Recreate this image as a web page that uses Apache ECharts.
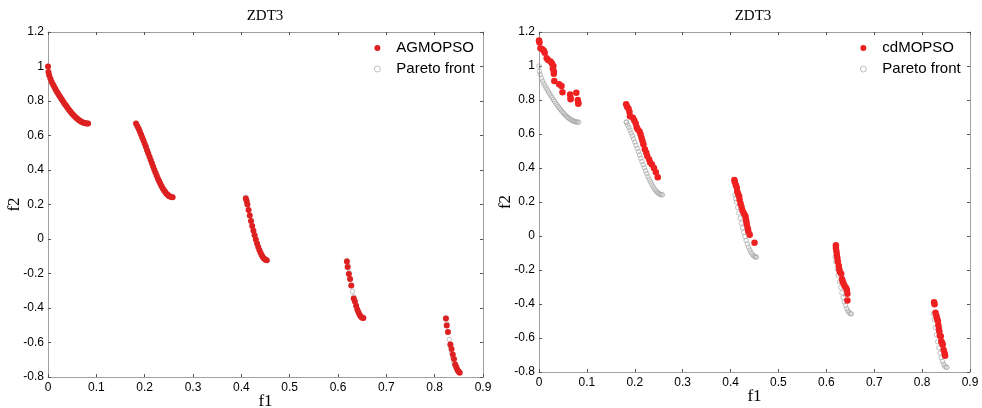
<!DOCTYPE html>
<html><head><meta charset="utf-8">
<script src="https://cdn.jsdelivr.net/npm/echarts@6/dist/echarts.min.js"></script>
<style>html,body{margin:0;padding:0;background:#fff}#c{width:982px;height:408px}</style>
</head><body><div id="c"></div>
<script>
const titles = ['ZDT3', 'ZDT3'];
const seriesNames = ['AGMOPSO', 'cdMOPSO'];
const frontName = 'Pareto front';

// True Pareto front of ZDT3 (f1, f2), read along the grey markers
const paretoFront = [
[0,1.0],[0.001,0.9684],[0.0025,0.9498],[0.005,0.9285],[0.0075,0.9116],[0.01,0.8969],[0.0125,0.8834],[0.015,0.8707],[0.0175,0.8586],[0.02,0.8468],[0.0225,0.8354],[0.025,0.8242],[0.0275,0.8133],[0.03,0.8025],[0.0325,0.7920],[0.035,0.7817],[0.0375,0.7718],[0.04,0.7620],[0.0425,0.7525],[0.045,0.7434],[0.0475,0.7347],[0.05,0.7264],[0.0525,0.7186],[0.055,0.7112],[0.0575,0.7043],[0.06,0.6980],[0.0625,0.6923],[0.065,0.6871],[0.0675,0.6826],[0.07,0.6788],[0.0725,0.6756],[0.075,0.6731],[0.0775,0.6713],[0.08,0.6702],[0.083,0.6696],
[0.1822,0.6699],[0.1825,0.6682],[0.185,0.6539],[0.1875,0.6388],[0.19,0.6228],[0.1925,0.6062],[0.195,0.5889],[0.1975,0.5711],[0.2,0.5528],[0.2025,0.5341],[0.205,0.5151],[0.2075,0.4961],[0.21,0.4768],[0.2125,0.4577],[0.215,0.4387],[0.2175,0.4200],[0.22,0.4017],[0.2225,0.3838],[0.225,0.3666],[0.2275,0.3500],[0.23,0.3343],[0.2325,0.3196],[0.235,0.3058],[0.2375,0.2933],[0.24,0.2819],[0.2425,0.2718],[0.245,0.2630],[0.2475,0.2558],[0.25,0.2500],[0.2525,0.2458],[0.255,0.2431],[0.2578,0.2422],
[0.4093,0.2423],[0.411,0.2197],[0.4125,0.1998],[0.415,0.1674],[0.4175,0.1358],[0.42,0.1050],[0.4225,0.0756],[0.425,0.0476],[0.4275,0.0211],[0.43,-0.0036],[0.4325,-0.0263],[0.435,-0.0471],[0.4375,-0.0656],[0.44,-0.0817],[0.4425,-0.0955],[0.445,-0.1066],[0.4475,-0.1151],[0.45,-0.1208],[0.4525,-0.1238],[0.4539,-0.1242],
[0.6184,-0.1242],[0.62,-0.1518],[0.6225,-0.1933],[0.625,-0.2325],[0.6275,-0.2693],[0.63,-0.3034],[0.6325,-0.3346],[0.635,-0.3627],[0.6375,-0.3874],[0.64,-0.4086],[0.6425,-0.4264],[0.645,-0.4402],[0.6475,-0.4502],[0.65,-0.4562],[0.6525,-0.4583],
[0.8233,-0.4578],[0.825,-0.4917],[0.8275,-0.5389],[0.83,-0.5825],[0.8325,-0.6222],[0.835,-0.6578],[0.8375,-0.6889],[0.84,-0.7153],[0.8425,-0.7371],[0.845,-0.7538],[0.8475,-0.7655],[0.85,-0.7720],[0.8518,-0.7733]
];

// AGMOPSO solutions (left panel)
const agmopso = [
[0,1.0],[0.001,0.9684],[0.0025,0.9498],[0.005,0.9285],[0.0075,0.9116],[0.01,0.8969],[0.0125,0.8834],[0.015,0.8707],[0.0175,0.8586],[0.02,0.8468],[0.0225,0.8354],[0.025,0.8242],[0.0275,0.8133],[0.03,0.8025],[0.0325,0.7920],[0.035,0.7817],[0.0375,0.7718],[0.04,0.7620],[0.0425,0.7525],[0.045,0.7434],[0.0475,0.7347],[0.05,0.7264],[0.0525,0.7186],[0.055,0.7112],[0.0575,0.7043],[0.06,0.6980],[0.0625,0.6923],[0.065,0.6871],[0.0675,0.6826],[0.07,0.6788],[0.0725,0.6756],[0.075,0.6731],[0.0775,0.6713],[0.08,0.6702],[0.083,0.6696],
[0.1822,0.6699],[0.185,0.6539],[0.1875,0.6388],[0.19,0.6228],[0.1925,0.6062],[0.195,0.5889],[0.1975,0.5711],[0.2,0.5528],[0.2025,0.5341],[0.205,0.5151],[0.2075,0.4961],[0.21,0.4768],[0.2125,0.4577],[0.215,0.4387],[0.2175,0.4200],[0.22,0.4017],[0.2225,0.3838],[0.225,0.3666],[0.2275,0.3500],[0.23,0.3343],[0.2325,0.3196],[0.235,0.3058],[0.2375,0.2933],[0.24,0.2819],[0.2425,0.2718],[0.245,0.2630],[0.2475,0.2558],[0.25,0.2500],[0.2525,0.2458],[0.255,0.2431],[0.2578,0.2422],
[0.4093,0.2350],[0.411,0.2197],[0.4125,0.1998],[0.415,0.1674],[0.4175,0.1358],[0.42,0.1050],[0.4225,0.0756],[0.425,0.0476],[0.4275,0.0211],[0.43,-0.0036],[0.4325,-0.0263],[0.435,-0.0471],[0.4375,-0.0656],[0.44,-0.0817],[0.4425,-0.0955],[0.445,-0.1066],[0.4475,-0.1151],[0.45,-0.1208],[0.4525,-0.1238],
[0.6184,-0.1302],[0.62,-0.1618],[0.6225,-0.2033],[0.625,-0.2325],[0.6275,-0.2693],[0.6325,-0.3446],[0.635,-0.3627],[0.6375,-0.3874],[0.64,-0.4086],[0.6425,-0.4264],[0.645,-0.4402],[0.6475,-0.4502],[0.65,-0.4562],[0.6525,-0.4583],
[0.8233,-0.4608],[0.825,-0.5017],[0.8275,-0.5389],[0.8325,-0.6122],[0.835,-0.6378],[0.8375,-0.6689],[0.84,-0.6953],[0.8425,-0.7271],[0.845,-0.7438],[0.8475,-0.7605],[0.85,-0.7700],[0.8518,-0.7750]
];

// cdMOPSO solutions (right panel)
const cdmopso = [
[0.000,1.150],[0.001,1.138],[0.003,1.105],[0.007,1.098],[0.010,1.090],[0.012,1.078],[0.016,1.046],[0.019,1.036],[0.024,1.026],[0.027,1.014],[0.030,1.000],[0.029,0.985],[0.031,0.968],[0.031,0.955],[0.032,0.912],[0.042,0.893],[0.047,0.882],[0.049,0.845],[0.065,0.833],[0.066,0.812],[0.066,0.805],[0.078,0.842],[0.081,0.800],[0.082,0.785],[0.082,0.778],
[0.182,0.775],[0.184,0.760],[0.187,0.748],[0.189,0.730],[0.190,0.705],[0.196,0.695],[0.199,0.680],[0.202,0.662],[0.204,0.640],[0.206,0.628],[0.210,0.615],[0.212,0.598],[0.214,0.578],[0.216,0.560],[0.218,0.540],[0.221,0.510],[0.224,0.490],[0.226,0.470],[0.230,0.450],[0.232,0.432],[0.236,0.420],[0.240,0.400],[0.244,0.375],[0.248,0.345],
[0.408,0.330],[0.409,0.318],[0.411,0.300],[0.413,0.285],[0.414,0.262],[0.416,0.245],[0.418,0.232],[0.419,0.212],[0.421,0.190],[0.423,0.170],[0.425,0.148],[0.428,0.132],[0.431,0.118],[0.432,0.100],[0.433,0.085],[0.434,0.068],[0.436,0.045],[0.437,0.028],[0.440,0.008],[0.450,-0.040],
[0.620,-0.055],[0.620,-0.070],[0.621,-0.090],[0.622,-0.110],[0.623,-0.130],[0.624,-0.150],[0.626,-0.175],[0.627,-0.195],[0.628,-0.210],[0.631,-0.222],[0.633,-0.255],[0.634,-0.268],[0.636,-0.280],[0.638,-0.292],[0.641,-0.305],[0.643,-0.318],[0.644,-0.340],[0.644,-0.380],
[0.825,-0.390],[0.826,-0.402],[0.828,-0.452],[0.830,-0.470],[0.831,-0.485],[0.833,-0.500],[0.834,-0.525],[0.835,-0.545],[0.836,-0.560],[0.837,-0.585],[0.839,-0.590],[0.840,-0.620],[0.842,-0.630],[0.843,-0.640],[0.845,-0.670],[0.847,-0.690],[0.848,-0.705]
];

const f1Range = [0, 0.9, 0.1];
const f2Range = [-0.8, 1.2, 0.2];

const sans = 'Liberation Sans, Arial, sans-serif';
const serif = 'Liberation Serif, Times New Roman, serif';
const axisGrey = '#a0a0a0';
const tickCol = '#555';

const grids = [
  {left: 48, top: 32, width: 435, height: 345, containLabel: false, outerBoundsMode: 'none'},
  {left: 539, top: 32, width: 431, height: 340, containLabel: false, outerBoundsMode: 'none'}
];

function xAxes(gi) {
  const base = {gridIndex: gi, type: 'value', min: f1Range[0], max: f1Range[1], interval: f1Range[2],
    splitLine: {show: false},
    axisLine: {show: true, onZero: false, lineStyle: {color: axisGrey, width: 1}},
    axisTick: {show: true, inside: true, length: 3, lineStyle: {color: tickCol}}};
  return [
    Object.assign({}, base, {position: 'bottom',
      axisLabel: {color: '#000', fontFamily: sans, fontSize: 12, margin: 5},
      name: 'f1', nameLocation: 'middle', nameGap: 16, nameMoveOverlap: false,
      nameTextStyle: {fontFamily: serif, fontSize: 17, color: '#000'}}),
    Object.assign({}, base, {position: 'top', axisLabel: {show: false}})
  ];
}
function yAxes(gi) {
  const base = {gridIndex: gi, type: 'value', min: f2Range[0], max: f2Range[1], interval: f2Range[2],
    splitLine: {show: false},
    axisLine: {show: true, onZero: false, lineStyle: {color: axisGrey, width: 1}},
    axisTick: {show: true, inside: true, length: 3, lineStyle: {color: tickCol}}};
  return [
    Object.assign({}, base, {position: 'left',
      axisLabel: {color: '#000', fontFamily: sans, fontSize: 12, margin: 4},
      name: 'f2', nameLocation: 'middle', nameGap: 25, nameMoveOverlap: false,
      nameTextStyle: {fontFamily: serif, fontSize: 17, color: '#000'}}),
    Object.assign({}, base, {position: 'right', axisLabel: {show: false}})
  ];
}

const frontStyle = {symbol: 'circle', symbolSize: 4.5,
  itemStyle: {color: 'rgba(255,255,255,0)', borderColor: '#a4a4a4', borderWidth: 0.7, opacity: 1}};

const legendText = {fontFamily: sans, fontSize: 15, color: '#000', lineHeight: 18};
const frontLegendItem = {name: frontName, itemStyle: {borderWidth: 0.7, borderColor: '#a4a4a4', color: 'rgba(255,255,255,0)'}};

const chart = echarts.init(document.getElementById('c'), null, {renderer: 'canvas'});
chart.setOption({
  backgroundColor: '#fff',
  animation: false,
  title: [
    {text: titles[0], left: 265, top: 9, textAlign: 'center', padding: 0,
     textStyle: {fontFamily: serif, fontSize: 15, fontWeight: 'normal', color: '#000'}},
    {text: titles[1], left: 753, top: 9, textAlign: 'center', padding: 0,
     textStyle: {fontFamily: serif, fontSize: 15, fontWeight: 'normal', color: '#000'}}
  ],
  legend: [
    {data: [seriesNames[0], frontLegendItem], left: 374, top: 39, orient: 'vertical', padding: 0,
     itemWidth: 28, itemHeight: 6, itemGap: 3, textStyle: legendText},
    {data: [seriesNames[1], frontLegendItem], left: 860, top: 39, orient: 'vertical', padding: 0,
     itemWidth: 28, itemHeight: 6, itemGap: 3, textStyle: legendText}
  ],
  grid: grids,
  xAxis: xAxes(0).concat(xAxes(1)),
  yAxis: yAxes(0).concat(yAxes(1)),
  series: [
    Object.assign({type: 'scatter', name: frontName, xAxisIndex: 0, yAxisIndex: 0, data: paretoFront, z: 2}, frontStyle),
    {type: 'scatter', name: seriesNames[0], xAxisIndex: 0, yAxisIndex: 0, data: agmopso, z: 3,
     symbol: 'circle', symbolSize: 6, itemStyle: {color: '#dd2020', opacity: 1}},
    Object.assign({type: 'scatter', name: frontName, xAxisIndex: 2, yAxisIndex: 2, data: paretoFront, z: 2}, frontStyle),
    {type: 'scatter', name: seriesNames[1], xAxisIndex: 2, yAxisIndex: 2, data: cdmopso, z: 3,
     symbol: 'circle', symbolSize: 6.5, itemStyle: {color: '#ee2020', opacity: 1}}
  ]
});
</script>
</body></html>
